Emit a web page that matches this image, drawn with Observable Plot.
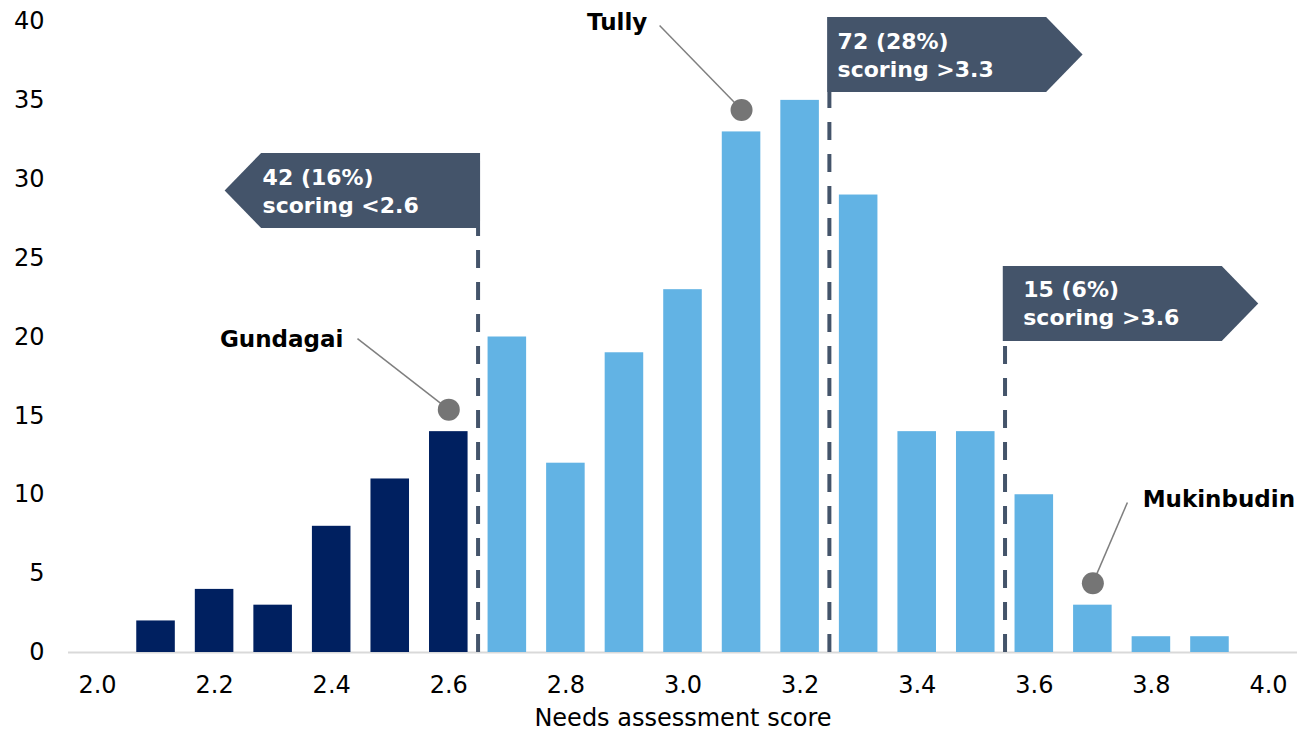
<!DOCTYPE html>
<html><head><meta charset="utf-8">
<script src="https://cdn.jsdelivr.net/npm/d3@7"></script>
<script src="https://cdn.jsdelivr.net/npm/@observablehq/plot@0.6"></script>
<style>body{margin:0;background:#fff;}</style>
</head><body><div id="chart"></div>
<script>
// ---- data ----
const scores = [2.1,2.2,2.3,2.4,2.5,2.6,2.7,2.8,2.9,3.0,3.1,3.2,3.3,3.4,3.5,3.6,3.7,3.8,3.9];
const counts = [2,4,3,8,11,14,20,12,19,23,33,35,29,14,14,10,3,1,1];
const xTicks = [2.0,2.2,2.4,2.6,2.8,3.0,3.2,3.4,3.6,3.8,4.0];
const yTicks = [0,5,10,15,20,25,30,35,40];
const lowCut = 2.65;
const thresholds = [2.65, 3.25, 3.55];
const boxLine1 = ["42 (16%)", "72 (28%)", "15 (6%)"];
const boxLine2 = ["scoring <2.6", "scoring >3.3", "scoring >3.6"];
const boxDir = ["left", "right", "right"];
const annotNames = ["Gundagai", "Tully", "Mukinbudin"];
const annotScores = [2.6, 3.1, 3.7];
const xLabel = "Needs assessment score";

// ---- layout (annotation placement) ----
const boxTop = [31.63, 40.25, 24.47];
const boxH = 4.75, boxW = 0.374, tipW = 0.0623;
const boxTextDx = [1, 10, 20];
const annotLabelX = [2.42, 2.939, 3.785];
const annotLabelY = [19.84, 39.94, 9.70];
const annotAnchor = ["end", "end", "start"];
const annotLineX = [2.444, 2.960, 3.759];
const annotLineY = [19.9, 39.75, 9.51];

const DARK = "#002060", LIGHT = "#62B3E4", SLATE = "#44546A", GRAY = "#757575";

const bars = scores.map((s, i) => ({score: s, count: counts[i]}));
const count = s => bars.find(b => Math.abs(b.score - s) < 1e-9).count;

const boxes = thresholds.map((t, i) => {
  const top = boxTop[i], bottom = top - boxH, mid = top - boxH / 2;
  let pts, textX;
  if (boxDir[i] === "left") {
    const right = t + 0.0043, bodyLeft = right - boxW, tip = bodyLeft - tipW;
    pts = [{x: tip, y1: mid, y2: mid}, {x: bodyLeft, y1: bottom, y2: top}, {x: right, y1: bottom, y2: top}];
    textX = bodyLeft;
  } else {
    const left = t - 0.003, bodyRight = left + boxW, tip = bodyRight + tipW;
    pts = [{x: left, y1: bottom, y2: top}, {x: bodyRight, y1: bottom, y2: top}, {x: tip, y1: mid, y2: mid}];
    textX = left;
  }
  return {i, t, top, bottom, mid, pts: pts.map(p => ({...p, box: i})), textX, l1: boxLine1[i], l2: boxLine2[i]};
});
const boxPts = boxes.flatMap(b => b.pts);

const annots = annotNames.map((n, i) => ({
  name: n, score: annotScores[i], count: count(annotScores[i]),
  lx: annotLabelX[i], ly: annotLabelY[i], anchor: annotAnchor[i],
  sx: annotLineX[i], sy: annotLineY[i]
}));

const marks = [
  Plot.ruleY([0], {stroke: "#D9D9D9", strokeWidth: 2}),
  Plot.rectY(bars, {filter: d => d.score < lowCut, x1: d => d.score - 0.05, x2: d => d.score + 0.05, y: "count", fill: DARK, insetLeft: 10, insetRight: 10}),
  Plot.rectY(bars, {filter: d => d.score >= lowCut, x1: d => d.score - 0.05, x2: d => d.score + 0.05, y: "count", fill: LIGHT, insetLeft: 10, insetRight: 10}),
  Plot.ruleX(boxes, {x: "t", y1: 0, y2: "bottom", stroke: SLATE, strokeWidth: 4, strokeDasharray: "18,14"}),
  Plot.areaY(boxPts, {x: "x", y1: "y1", y2: "y2", z: "box", fill: SLATE, curve: "linear"}),
  ...annots.map(a => Plot.link([a], {x1: "sx", y1: "sy", x2: "score", y2: d => d.count + 1.4, stroke: "#7F7F7F", strokeWidth: 1.5})),
  Plot.dot(annots, {x: "score", y: "count", dy: -22, r: 11, fill: GRAY, stroke: "none"}),
  ...annots.map(a => Plot.text([a], {x: "lx", y: "ly", text: "name", textAnchor: a.anchor, lineAnchor: "middle", fontWeight: "bold", fontSize: 23, fill: "black"})),
];
boxes.forEach((b, i) => {
  marks.push(Plot.text([b], {x: "textX", y: "top", text: "l1", dx: boxTextDx[i], dy: 31, textAnchor: "start", lineAnchor: "bottom", fontWeight: "bold", fontSize: 22, fill: "white"}));
  marks.push(Plot.text([b], {x: "textX", y: "top", text: "l2", dx: boxTextDx[i], dy: 59, textAnchor: "start", lineAnchor: "bottom", fontWeight: "bold", fontSize: 22, fill: "white"}));
});
marks.push(
  Plot.axisX({ticks: xTicks, tickFormat: d3.format(".1f"), tickSize: 0, tickPadding: 23, fontSize: 24, label: null}),
  Plot.axisY({ticks: yTicks, tickSize: 0, tickPadding: 24, fontSize: 24, label: null}),
  Plot.text([xLabel], {frameAnchor: "bottom", text: d => d, dy: 73, lineAnchor: "bottom", fontSize: 24, fill: "black"})
);

const chart = Plot.plot({
  width: 1299, height: 731,
  marginLeft: 68, marginRight: 2, marginTop: 21, marginBottom: 79,
  x: {domain: [1.9505, 4.0495]},
  y: {domain: [0, 40]},
  style: {fontFamily: "'DejaVu Sans', Verdana, sans-serif", color: "black", background: "white", overflow: "visible"},
  marks
});
document.getElementById("chart").appendChild(chart);
</script>
</body></html>
